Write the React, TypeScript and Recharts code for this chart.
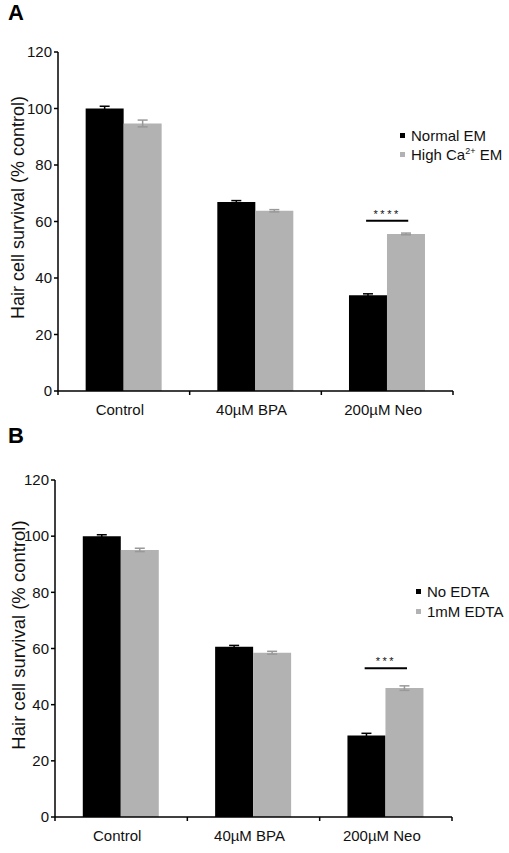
import React from 'react';
import { BarChart, Bar, XAxis, YAxis, ErrorBar, ReferenceLine, Legend } from 'recharts';

const categories = ['Control', '40µM BPA', '200µM Neo'];

// panel A
const normalEM = [100, 66.9, 33.9];
const normalEMErr = [0.8, 0.5, 0.5];
const highCaEM = [94.7, 63.8, 55.6];
const highCaEMErr = [1.2, 0.4, 0.3];

// panel B
const noEDTA = [100, 60.6, 29.0];
const noEDTAErr = [0.5, 0.5, 0.8];
const edta1mM = [95.1, 58.5, 45.9];
const edta1mMErr = [0.6, 0.5, 0.8];

const yTicks = [0, 20, 40, 60, 80, 100, 120];
const boundaryTicks = [0, 1, 2, 3];
const centerTicks = [0.5, 1.5, 2.5];

// significance brackets, in axis units (x on the 0..3 boundary axis)
const sigA = { from: 2.34, to: 2.66, y: 60.3, stars: '****' };
const sigB = { from: 2.34, to: 2.66, y: 53, stars: '***' };

const FONT = 'Arial, "Liberation Sans", sans-serif';
const BLACK = '#000';
const GRAY = '#b2b2b2';

const formatName = (name: string) => {
  const m = name.match(/^(.*Ca)2\+(.*)$/);
  if (!m) return name;
  return (
    <>
      {m[1]}
      <sup style={{ fontSize: '0.6em', lineHeight: 0 }}>2+</sup>
      {m[2]}
    </>
  );
};

const makeLegend = (rowH: number) => (props: any) => (
  <div style={{ fontFamily: FONT, fontSize: 15, color: '#111' }}>
    {(props.payload || []).map((p: any) => (
      <div key={p.value} style={{ display: 'flex', alignItems: 'center', height: rowH, whiteSpace: 'nowrap' }}>
        <span style={{ display: 'inline-block', width: 5, height: 5, background: p.color, marginRight: 6 }} />
        <span>{formatName(p.value)}</span>
      </div>
    ))}
  </div>
);

const makeYLabel = (cx: number, dy: number, size: number) => (props: any) => {
  const vb = props.viewBox || {};
  const cy = vb.y + vb.height / 2 + dy;
  return (
    <text
      x={cx}
      y={cy}
      transform={`rotate(-90, ${cx}, ${cy})`}
      textAnchor="middle"
      dominantBaseline="central"
      style={{ fontSize: size, fill: '#111', fontFamily: FONT }}
    >
      Hair cell survival (% control)
    </text>
  );
};

// x axis tick: short mark at group boundaries, category name at group centres
const XTick = (props: any) => {
  const { x, y, payload } = props;
  const v = payload.value as number;
  if (Number.isInteger(v)) {
    return <line x1={x} x2={x} y1={y} y2={y + 4} stroke={BLACK} strokeWidth={1.5} />;
  }
  return (
    <text x={x - 4} y={y + 24} textAnchor="middle" style={{ fontSize: 15, fill: '#111', fontFamily: FONT }}>
      {categories[Math.floor(v)]}
    </text>
  );
};

interface PanelProps {
  top: number;
  height: number;
  margin: { top: number; right: number; bottom: number; left: number };
  yAxisWidth: number;
  labelX: number;
  labelDy: number;
  labelSize: number;
  legendPos: { left: number; top: number; rowH: number };
  names: [string, string];
  s1: number[];
  s1Err: number[];
  s2: number[];
  s2Err: number[];
  sig: { from: number; to: number; y: number; stars: string };
}

const Panel: React.FC<PanelProps> = (p) => {
  const data = categories.map((name, i) => ({
    name,
    pos: i + 0.5,
    s1: p.s1[i],
    s1Err: p.s1Err[i],
    s2: p.s2[i],
    s2Err: p.s2Err[i],
  }));
  return (
    <div style={{ position: 'absolute', left: 0, top: p.top }}>
      <BarChart width={509} height={p.height} data={data} margin={p.margin} barCategoryGap="21%" barGap={0}>
        <XAxis xAxisId="cat" dataKey="name" hide height={0} />
        <XAxis
          xAxisId="num"
          dataKey="pos"
          type="number"
          domain={[0, 3]}
          allowDataOverflow
          ticks={[...boundaryTicks, ...centerTicks]}
          interval={0}
          tick={<XTick />}
          tickLine={false}
          tickSize={0}
          tickMargin={0}
          height={30}
          axisLine={{ stroke: BLACK, strokeWidth: 1.5 }}
        />
        <YAxis
          width={p.yAxisWidth}
          domain={[0, 120]}
          ticks={yTicks}
          interval={0}
          tickSize={4}
          tickMargin={2}
          axisLine={{ stroke: BLACK, strokeWidth: 1.5 }}
          tickLine={{ stroke: BLACK, strokeWidth: 1.5 }}
          tick={{ fontSize: 15, fill: '#111', fontFamily: FONT }}
          label={{ content: makeYLabel(p.labelX, p.labelDy, p.labelSize) }}
        />
        <Legend
          layout="horizontal"
          align="center"
          verticalAlign="middle"
          itemSorter="dataKey"
          content={makeLegend(p.legendPos.rowH)}
          wrapperStyle={{ left: p.legendPos.left, top: p.legendPos.top, width: 130, height: 44 }}
        />
        <Bar xAxisId="cat" dataKey="s1" name={p.names[0]} fill={BLACK} isAnimationActive={false}>
          <ErrorBar dataKey="s1Err" width={5} stroke={BLACK} strokeWidth={1.5} direction="y" />
        </Bar>
        <Bar xAxisId="cat" dataKey="s2" name={p.names[1]} fill={GRAY} isAnimationActive={false}>
          <ErrorBar dataKey="s2Err" width={5} stroke="#999" strokeWidth={1.5} direction="y" />
        </Bar>
        <ReferenceLine
          xAxisId="num"
          segment={[
            { x: p.sig.from, y: p.sig.y },
            { x: p.sig.to, y: p.sig.y },
          ]}
          stroke={BLACK}
          strokeWidth={2}
          label={{
            value: p.sig.stars,
            position: 'top',
            offset: 3,
            style: { fontSize: 11, letterSpacing: 2.5, fill: '#111', fontFamily: FONT },
          }}
        />
      </BarChart>
    </div>
  );
};

const letterStyle: React.CSSProperties = {
  position: 'absolute',
  left: 8,
  fontFamily: FONT,
  fontWeight: 'bold',
  fontSize: 22,
  lineHeight: '22px',
  color: '#000',
};

export default function App() {
  return (
    <div style={{ position: 'absolute', left: 0, top: 0, width: 509, height: 853, background: '#fff', overflow: 'hidden' }}>
      <Panel
        top={0}
        height={422}
        margin={{ top: 52, right: 56, bottom: 1, left: 0 }}
        yAxisWidth={58}
        labelX={18}
        labelDy={-14}
        labelSize={18}
        legendPos={{ left: 400, top: 126, rowH: 19 }}
        names={['Normal EM', 'High Ca2+ EM']}
        s1={normalEM}
        s1Err={normalEMErr}
        s2={highCaEM}
        s2Err={highCaEMErr}
        sig={sigA}
      />
      <Panel
        top={422}
        height={431}
        margin={{ top: 58, right: 57, bottom: 6, left: 0 }}
        yAxisWidth={55}
        labelX={18}
        labelDy={-13.5}
        labelSize={18.5}
        legendPos={{ left: 416, top: 159, rowH: 20 }}
        names={['No EDTA', '1mM EDTA']}
        s1={noEDTA}
        s1Err={noEDTAErr}
        s2={edta1mM}
        s2Err={edta1mMErr}
        sig={sigB}
      />
      <div style={{ ...letterStyle, top: 2 }}>A</div>
      <div style={{ ...letterStyle, top: 425 }}>B</div>
    </div>
  );
}
